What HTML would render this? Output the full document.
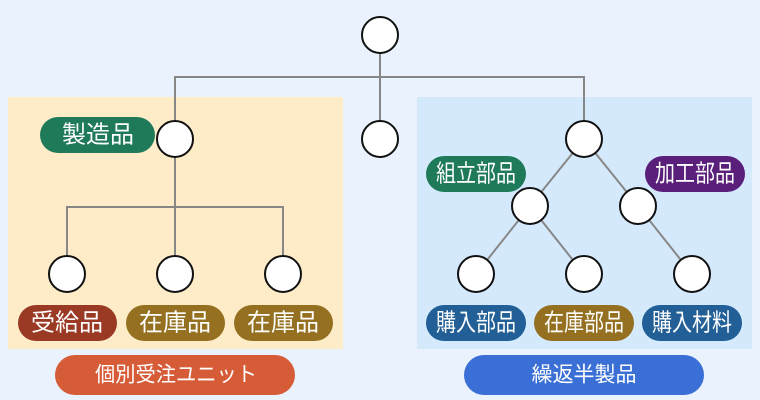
<!DOCTYPE html>
<html><head><meta charset="utf-8"><style>
html,body{margin:0;padding:0;background:#eaf2fd;}
svg{display:block;}
text{font-family:"Liberation Sans","Noto Sans CJK JP",sans-serif;fill:#fff;font-size:24px;text-anchor:middle;dominant-baseline:central;}
</style></head><body>
<svg width="760" height="400" viewBox="0 0 760 400" xmlns="http://www.w3.org/2000/svg">
<rect width="760" height="400" fill="#eaf2fd"/>
<rect x="8" y="97" width="335" height="252" fill="#feecc9"/>
<rect x="417" y="97" width="335" height="252" fill="#d4e9fb"/>
<g stroke="#878787" stroke-width="2" fill="none">
<path d="M380 35V139M175 139V77H584V139"/>
<path d="M175 139V207M67 274V207H283V274M175 207V274"/>
<path d="M584 139L530 206L476 274M530 206L584 274M584 139L638 206L692 274"/>
</g>
<g fill="#fff" stroke="#111" stroke-width="2">
<circle cx="380" cy="35" r="18"/>
<circle cx="175" cy="139" r="18"/><circle cx="380" cy="139" r="18"/><circle cx="584" cy="139" r="18"/>
<circle cx="67" cy="274" r="18"/><circle cx="175" cy="274" r="18"/><circle cx="283" cy="274" r="18"/>
<circle cx="530" cy="206" r="18"/><circle cx="638" cy="206" r="18"/>
<circle cx="476" cy="274" r="18"/><circle cx="584" cy="274" r="18"/><circle cx="692" cy="274" r="18"/>
</g>
<rect x="40" y="117" width="115" height="36" rx="18" fill="#1f7a5a"/><text x="98" y="135">製造品</text>
<rect x="18" y="305" width="99" height="36" rx="18" fill="#9a3a24"/><text x="67" y="323">受給品</text>
<rect x="126" y="305" width="99" height="36" rx="18" fill="#957020"/><text x="175" y="323">在庫品</text>
<rect x="234" y="305" width="99" height="36" rx="18" fill="#957020"/><text x="283" y="323">在庫品</text>
<rect x="426" y="156" width="100" height="36" rx="18" fill="#1f7a5a"/><text x="476" y="174" textLength="80" lengthAdjust="spacingAndGlyphs">組立部品</text>
<rect x="645" y="156" width="100" height="36" rx="18" fill="#5a1f7a"/><text x="695" y="174" textLength="80" lengthAdjust="spacingAndGlyphs">加工部品</text>
<rect x="426" y="305" width="100" height="36" rx="18" fill="#225f96"/><text x="476" y="323" textLength="80" lengthAdjust="spacingAndGlyphs">購入部品</text>
<rect x="534" y="305" width="100" height="36" rx="18" fill="#957020"/><text x="584" y="323" textLength="80" lengthAdjust="spacingAndGlyphs">在庫部品</text>
<rect x="642" y="305" width="100" height="36" rx="18" fill="#225f96"/><text x="692" y="323" textLength="80" lengthAdjust="spacingAndGlyphs">購入材料</text>
<rect x="55" y="355" width="240" height="40" rx="20" fill="#d65c38"/><text x="176" y="375" style="font-size:21px" textLength="162" lengthAdjust="spacingAndGlyphs">個別受注ユニット</text>
<rect x="464" y="355" width="240" height="40" rx="20" fill="#3a6fd6"/><text x="584" y="375" style="font-size:21px">繰返半製品</text>
</svg>
</body></html>
